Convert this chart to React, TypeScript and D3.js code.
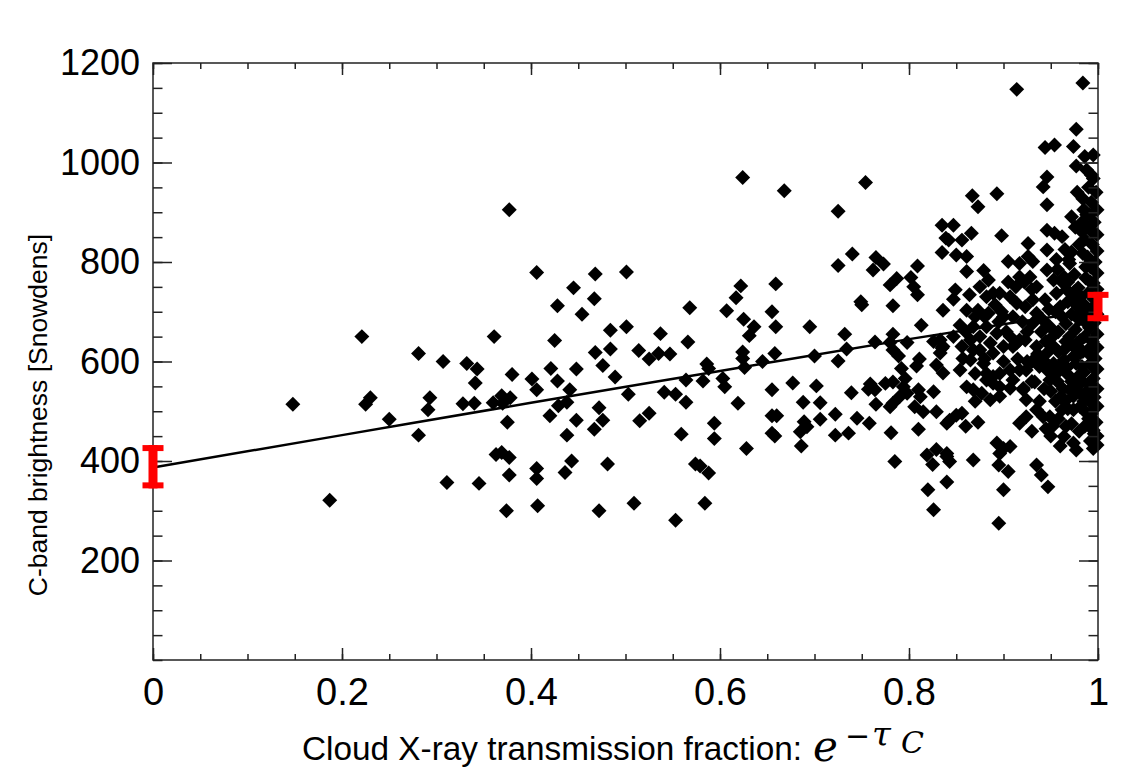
import React, { useRef, useEffect } from 'react';
import * as d3 from 'd3';

// [transmission fraction, C-band brightness]
const cloudPoints: [number, number][] = [
  // sparse low-transmission part
  [0.148, 514], [0.187, 321], [0.221, 650], [0.225, 514], [0.230, 527], [0.250, 484],
  [0.281, 452], [0.281, 616], [0.293, 527], [0.291, 503], [0.307, 600], [0.311, 357],
  [0.328, 515], [0.332, 596], [0.343, 585], [0.341, 557], [0.340, 516], [0.345, 355],
  // middle
  [0.377, 905], [0.624, 970], [0.668, 943], [0.406, 779], [0.468, 776], [0.501, 780],
  [0.445, 748], [0.467, 726], [0.428, 712], [0.454, 695], [0.568, 708], [0.622, 752],
  [0.617, 728], [0.659, 756], [0.607, 702], [0.655, 700], [0.625, 685], [0.636, 670],
  [0.631, 652], [0.659, 670], [0.361, 650], [0.425, 642], [0.484, 663], [0.501, 670],
  [0.537, 656], [0.566, 639], [0.380, 574], [0.401, 565], [0.406, 543], [0.421, 586],
  [0.428, 561], [0.448, 585], [0.468, 618], [0.484, 625], [0.476, 592], [0.489, 569],
  [0.514, 622], [0.525, 605], [0.535, 616], [0.547, 615], [0.441, 543], [0.438, 518],
  [0.429, 511], [0.503, 534], [0.541, 538], [0.553, 534], [0.564, 518], [0.564, 563],
  [0.586, 595], [0.588, 586], [0.582, 561], [0.603, 566], [0.605, 549], [0.624, 619],
  [0.624, 606], [0.626, 588], [0.645, 600], [0.658, 616], [0.655, 543], [0.677, 557],
  [0.619, 516], [0.360, 517], [0.369, 531], [0.378, 527], [0.370, 516], [0.375, 478],
  [0.420, 491], [0.448, 482], [0.438, 452], [0.472, 507], [0.476, 482], [0.467, 464],
  [0.525, 496], [0.515, 481], [0.559, 454], [0.594, 476], [0.594, 445], [0.628, 425],
  [0.655, 491], [0.660, 491], [0.655, 456], [0.658, 450], [0.363, 413], [0.369, 417],
  [0.377, 407], [0.377, 372], [0.406, 385], [0.406, 365], [0.443, 400], [0.436, 377],
  [0.481, 394], [0.574, 394], [0.579, 390], [0.588, 376], [0.374, 300], [0.407, 310],
  [0.472, 300], [0.509, 315], [0.553, 281], [0.584, 315],
  // 0.68 - 0.84
  [0.754, 960], [0.725, 902], [0.740, 816], [0.725, 793], [0.765, 809], [0.773, 796],
  [0.762, 784], [0.809, 792], [0.787, 767], [0.780, 754], [0.802, 769], [0.805, 750],
  [0.809, 734], [0.835, 874], [0.839, 848], [0.835, 819], [0.750, 714], [0.749, 720],
  [0.783, 712], [0.836, 703], [0.695, 670], [0.732, 655], [0.813, 673], [0.783, 655],
  [0.700, 611], [0.734, 625], [0.725, 601], [0.764, 639], [0.780, 638], [0.798, 638],
  [0.783, 623], [0.789, 611], [0.826, 640], [0.833, 643], [0.835, 627], [0.811, 605],
  [0.808, 591], [0.829, 593], [0.836, 577], [0.792, 586], [0.796, 566], [0.702, 551],
  [0.688, 518], [0.706, 517], [0.739, 537], [0.759, 555], [0.764, 543], [0.757, 544],
  [0.775, 556], [0.783, 559], [0.794, 549], [0.798, 536], [0.790, 529], [0.783, 516],
  [0.780, 509], [0.765, 514], [0.810, 543], [0.812, 529], [0.806, 509], [0.815, 499],
  [0.826, 539], [0.829, 499], [0.840, 476], [0.689, 479], [0.692, 469], [0.685, 459],
  [0.706, 484], [0.722, 494], [0.745, 486], [0.758, 476], [0.722, 452], [0.736, 456],
  [0.781, 457], [0.810, 464], [0.686, 430], [0.785, 399], [0.819, 412], [0.825, 393],
  [0.829, 423], [0.840, 409], [0.840, 358], [0.820, 342], [0.826, 302],
  // dense high-transmission part
  [0.984, 1160], [0.914, 1147], [0.977, 1067], [0.944, 1030], [0.954, 1035], [0.974, 1032],
  [0.986, 1012], [0.995, 1015], [0.977, 993], [0.946, 971], [0.942, 951], [0.995, 968],
  [0.867, 933], [0.873, 911], [0.893, 937], [0.946, 915], [0.984, 927], [0.972, 891],
  [0.847, 874], [0.842, 844], [0.856, 844], [0.866, 858], [0.898, 853], [0.946, 864],
  [0.954, 858], [0.962, 851], [0.983, 861], [0.926, 837], [0.850, 814], [0.861, 811],
  [0.861, 781], [0.879, 783], [0.905, 801], [0.917, 797], [0.926, 811], [0.931, 801],
  [0.946, 824], [0.956, 805], [0.970, 797], [0.984, 817], [0.849, 744], [0.847, 725],
  [0.864, 734], [0.861, 703], [0.873, 703], [0.884, 764], [0.875, 750], [0.889, 737],
  [0.896, 737], [0.882, 730], [0.891, 714], [0.884, 697], [0.907, 730], [0.914, 717],
  [0.923, 710], [0.931, 724], [0.935, 697], [0.917, 770], [0.928, 770], [0.935, 750],
  [0.946, 784], [0.953, 764], [0.964, 770], [0.956, 737], [0.967, 744], [0.974, 730],
  [0.944, 724], [0.960, 710], [0.931, 677], [0.942, 683], [0.949, 670], [0.854, 673],
  [0.868, 670], [0.882, 670], [0.893, 657], [0.903, 660], [0.907, 650], [0.917, 643],
  [0.847, 650], [0.865, 643], [0.875, 650], [0.886, 637], [0.836, 630], [0.833, 617],
  [0.856, 630], [0.868, 623], [0.857, 606], [0.875, 623], [0.889, 617], [0.900, 630],
  [0.910, 630], [0.914, 637], [0.923, 643], [0.935, 630], [0.946, 617], [0.953, 630],
  [0.964, 623], [0.974, 630], [0.942, 603], [0.953, 596], [0.964, 603], [0.974, 610],
  [0.981, 617], [0.854, 583], [0.865, 603], [0.870, 576], [0.879, 596], [0.882, 576],
  [0.889, 570], [0.896, 576], [0.907, 583], [0.917, 583], [0.924, 583], [0.861, 549],
  [0.868, 543], [0.882, 563], [0.889, 556], [0.896, 549], [0.907, 546], [0.877, 536],
  [0.886, 523], [0.896, 530], [0.921, 543], [0.933, 559], [0.910, 563], [0.946, 583],
  [0.956, 576], [0.949, 563], [0.967, 576], [0.970, 543], [0.974, 530], [0.981, 536],
  [0.981, 509], [0.974, 503], [0.988, 496], [0.995, 503], [0.917, 476], [0.924, 489],
  [0.935, 503], [0.942, 489], [0.949, 489], [0.962, 503], [0.992, 476], [0.995, 462],
  [0.964, 449], [0.974, 436], [0.977, 422], [0.995, 425], [0.868, 402], [0.893, 436],
  [0.900, 425], [0.896, 415], [0.907, 429], [0.895, 392], [0.905, 379], [0.900, 342],
  [0.895, 275], [0.935, 392], [0.940, 372], [0.947, 348], [0.840, 415], [0.843, 399],
  [0.843, 482], [0.850, 492], [0.856, 496], [0.924, 523], [0.921, 546],
  [0.930, 600], [0.938, 590], [0.945, 640], [0.952, 650], [0.958, 660], [0.962, 690],
  [0.955, 700], [0.948, 705], [0.940, 660], [0.936, 615], [0.958, 620], [0.966, 640],
  [0.960, 590], [0.957, 560], [0.963, 545], [0.950, 540], [0.943, 545], [0.938, 520],
  [0.955, 520], [0.961, 530], [0.968, 505], [0.958, 485], [0.966, 470], [0.972, 475],
  [0.980, 460], [0.985, 520], [0.983, 560], [0.984, 620], [0.986, 680], [0.982, 730],
  [0.987, 790], [0.983, 880], [0.978, 940], [0.972, 820], [0.962, 760], [0.957, 785],
  [0.968, 760], [0.975, 740], [0.930, 745], [0.922, 760], [0.913, 750], [0.905, 760],
  [0.900, 690], [0.910, 690], [0.920, 680], [0.925, 660], [0.898, 700], [0.895, 680],
  [0.880, 690], [0.870, 690], [0.860, 660], [0.880, 605], [0.900, 600], [0.915, 605],
  [0.930, 560], [0.925, 600], [0.930, 460], [0.945, 465], [0.952, 470], [0.950, 450],
  [0.960, 430], [0.870, 520], [0.860, 470], [0.873, 478],
  // the solid column right at the edge
  [0.990, 950], [0.998, 940], [0.993, 920], [0.999, 905], [0.988, 895], [0.996, 880],
  [0.991, 870], [0.999, 855], [0.986, 845], [0.994, 835], [0.999, 822], [0.989, 810],
  [0.997, 800], [0.992, 790], [0.999, 778], [0.987, 768], [0.995, 758], [0.999, 745],
  [0.990, 738], [0.996, 725], [0.985, 715], [0.993, 705], [0.999, 695], [0.988, 688],
  [0.996, 678], [0.991, 668], [0.999, 655], [0.986, 650], [0.994, 640], [0.999, 628],
  [0.989, 618], [0.997, 606], [0.992, 596], [0.999, 585], [0.985, 578], [0.995, 566],
  [0.990, 556], [0.999, 545], [0.987, 538], [0.996, 528], [0.992, 518], [0.999, 510],
  [0.990, 485], [0.998, 478], [0.986, 470], [0.999, 450], [0.992, 440], [0.999, 432],
  [0.968, 720], [0.978, 712], [0.972, 695], [0.980, 684], [0.966, 676], [0.976, 664],
  [0.970, 650], [0.981, 642], [0.967, 588], [0.977, 596], [0.972, 560], [0.980, 572],
  [0.965, 520], [0.978, 552], [0.983, 590], [0.982, 700], [0.979, 748], [0.975, 775],
  [0.969, 805], [0.980, 835], [0.965, 825], [0.976, 870], [0.985, 905], [0.988, 985],
  [0.993, 975], [0.991, 895], [0.994, 860], [0.992, 760], [0.990, 700], [0.993, 630],
  [0.994, 590], [0.991, 540], [0.993, 495], [0.996, 455],
];

// fitted trend
const fitX = [0, 0.2, 0.4, 0.6, 0.8, 0.9, 1.0];
const fitY = [387, 452, 517, 581, 645, 675, 703];

// red error bars at the two ends
const errX = [0, 1];
const errLow = [345, 681];
const errHigh = [432, 740];

const xMajor = [0, 0.2, 0.4, 0.6, 0.8, 1];
const xMinor = d3.range(0, 1.0001, 0.05);
const yMajor = [200, 400, 600, 800, 1000, 1200];
const yMinor = d3.range(0, 1201, 50);

const W = 1121;
const H = 774;

export default function App() {
  const ref = useRef<SVGSVGElement>(null);

  useEffect(() => {
    const svg = d3.select(ref.current);
    svg.selectAll('*').remove();

    const left = 153, right = 1098, top = 63, bottom = 660;
    const x = d3.scaleLinear().domain([0, 1]).range([left, right]);
    const y = d3.scaleLinear().domain([0, 1200]).range([bottom, top]);
    const font = "'Liberation Sans', Arial, Helvetica, sans-serif";

    svg.append('rect').attr('width', W).attr('height', H).attr('fill', '#fff');

    // points
    const diamond = d3.symbol().type(d3.symbolSquare).size(112)();
    svg.append('g')
      .selectAll('path')
      .data(cloudPoints)
      .enter()
      .append('path')
        .attr('d', diamond)
        .attr('transform', d => `translate(${x(d[0])},${y(d[1])}) rotate(45)`)
        .attr('fill', '#000');

    // fit line
    const fit = fitX.map((v, i) => [v, fitY[i]] as [number, number]);
    svg.append('path')
      .datum(fit)
      .attr('d', d3.line<[number, number]>().x(d => x(d[0])).y(d => y(d[1])).curve(d3.curveMonotoneX))
      .attr('fill', 'none')
      .attr('stroke', '#000')
      .attr('stroke-width', 2.5);

    // axes: major ticks with labels, minor ticks, mirrored on top / right
    const styleAxis = (g: any) => {
      g.select('.domain').remove();
      g.selectAll('line').attr('stroke', '#222').attr('stroke-width', 1.5);
      g.selectAll('text').attr('font-family', font).attr('fill', '#000');
    };

    svg.append('g').attr('transform', `translate(0,${bottom})`)
      .call(d3.axisBottom(x).tickValues(xMinor).tickSize(-6).tickFormat(() => ''))
      .call(styleAxis);
    svg.append('g').attr('transform', `translate(0,${bottom})`)
      .call(d3.axisBottom(x).tickValues(xMajor).tickSizeInner(-12).tickSizeOuter(0).tickPadding(18)
        .tickFormat(d => d3.format('')(+d)))
      .call(styleAxis)
      .selectAll('text').attr('font-size', 38);

    svg.append('g').attr('transform', `translate(0,${top})`)
      .call(d3.axisTop(x).tickValues(xMinor).tickSize(-6).tickFormat(() => ''))
      .call(styleAxis);
    svg.append('g').attr('transform', `translate(0,${top})`)
      .call(d3.axisTop(x).tickValues(xMajor).tickSize(-12).tickFormat(() => ''))
      .call(styleAxis);

    svg.append('g').attr('transform', `translate(${left},0)`)
      .call(d3.axisLeft(y).tickValues(yMinor).tickSize(-9.5).tickFormat(() => ''))
      .call(styleAxis);
    svg.append('g').attr('transform', `translate(${left},0)`)
      .call(d3.axisLeft(y).tickValues(yMajor).tickSizeInner(-19).tickSizeOuter(0).tickPadding(13)
        .tickFormat(d3.format('d')))
      .call(styleAxis)
      .selectAll('text').attr('font-size', 36);

    svg.append('g').attr('transform', `translate(${right},0)`)
      .call(d3.axisRight(y).tickValues(yMinor).tickSize(-9.5).tickFormat(() => ''))
      .call(styleAxis);
    svg.append('g').attr('transform', `translate(${right},0)`)
      .call(d3.axisRight(y).tickValues(yMajor).tickSize(-19).tickFormat(() => ''))
      .call(styleAxis);

    // frame
    svg.append('rect')
      .attr('x', left).attr('y', top)
      .attr('width', right - left).attr('height', bottom - top)
      .attr('fill', 'none').attr('stroke', '#222').attr('stroke-width', 1.5);

    // error bars
    const eb = svg.append('g').attr('fill', '#ff0000');
    errX.forEach((v, i) => {
      const cx = x(v), y0 = y(errHigh[i]), y1 = y(errLow[i]);
      eb.append('rect').attr('x', cx - 4.5).attr('y', y0).attr('width', 9).attr('height', y1 - y0);
      eb.append('rect').attr('x', cx - 10.5).attr('y', y0).attr('width', 21).attr('height', 6);
      eb.append('rect').attr('x', cx - 10.5).attr('y', y1 - 6).attr('width', 21).attr('height', 6);
    });

    // axis titles
    svg.append('text')
      .attr('transform', `translate(47,415) rotate(-90)`)
      .attr('text-anchor', 'middle')
      .attr('font-family', font)
      .attr('font-size', 26.5)
      .text('C-band brightness [Snowdens]');

    svg.append('text')
      .attr('x', 302).attr('y', 760)
      .attr('font-family', font)
      .attr('font-size', 34)
      .attr('textLength', 500)
      .attr('lengthAdjust', 'spacingAndGlyphs')
      .text('Cloud X-ray transmission fraction:');

    const serif = "'DejaVu Serif', 'Liberation Serif', serif";
    svg.append('text')
      .attr('x', 813).attr('y', 761)
      .attr('font-family', serif).attr('font-style', 'italic').attr('font-size', 42)
      .text('e');
    svg.append('text')
      .attr('x', 845).attr('y', 746)
      .attr('font-family', serif).attr('font-size', 30)
      .text('\u2212');
    svg.append('text')
      .attr('x', 872).attr('y', 746)
      .attr('font-family', serif).attr('font-style', 'italic').attr('font-size', 34)
      .text('\u03C4');
    svg.append('text')
      .attr('x', 901).attr('y', 753)
      .attr('font-family', serif).attr('font-style', 'italic').attr('font-size', 30)
      .text('C');
  }, []);

  return (
    <svg
      ref={ref}
      width={W}
      height={H}
      style={{ position: 'absolute', left: 0, top: 0, display: 'block' }}
    />
  );
}
